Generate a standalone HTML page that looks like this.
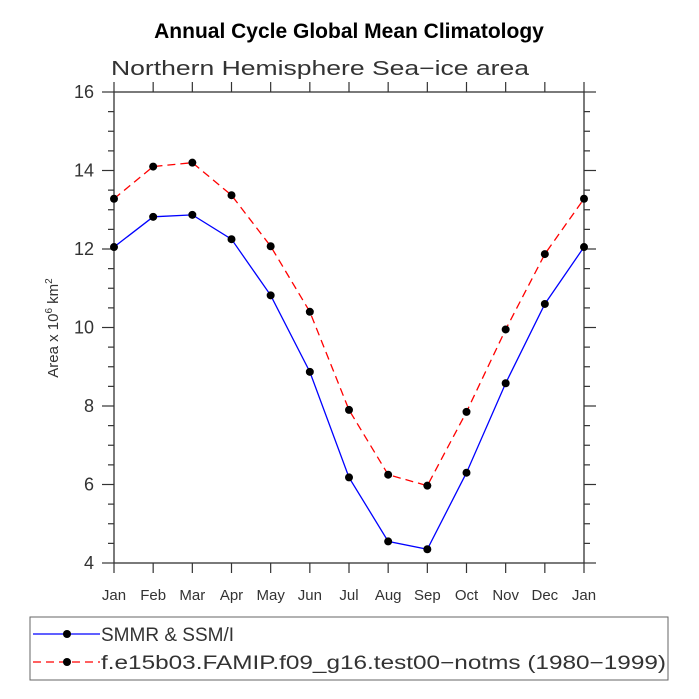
<!DOCTYPE html>
<html><head><meta charset="utf-8"><style>body{margin:0;background:#fff}svg{display:block}text{font-family:"Liberation Sans",sans-serif}</style></head>
<body>
<svg id="c" width="699" height="699" xmlns="http://www.w3.org/2000/svg">
<text x="349" y="38" text-anchor="middle" font-size="21" font-weight="bold">Annual Cycle Global Mean Climatology</text>
<text x="111" y="75" font-size="20" fill="#333" textLength="418" lengthAdjust="spacingAndGlyphs">Northern Hemisphere Sea−ice area</text>
<text transform="translate(58,328) rotate(-90)" text-anchor="middle" font-size="15" fill="#333">Area x 10<tspan dy="-6" font-size="10">6</tspan><tspan dy="6"> km</tspan><tspan dy="-6" font-size="10">2</tspan></text>
<g id="axes"></g><g id="series"></g>
<rect x="30" y="617" width="638" height="63" fill="none" stroke="#666" stroke-width="1"/>
<g><line x1="33" y1="634" x2="100" y2="634" stroke="#00f" stroke-width="1.3"/><circle cx="67" cy="634" r="4" fill="#000"/><text x="101" y="641" font-size="19" fill="#333">SMMR &amp; SSM/I</text></g>
<g><line x1="33" y1="662" x2="100" y2="662" stroke="#f00" stroke-width="1.3" stroke-dasharray="8,5"/><circle cx="67" cy="662" r="4" fill="#000"/><text x="101" y="669" font-size="19" fill="#333" textLength="565" lengthAdjust="spacingAndGlyphs">f.e15b03.FAMIP.f09_g16.test00−notms (1980−1999)</text></g>
</svg>
<script>
const months=["Jan","Feb","Mar","Apr","May","Jun","Jul","Aug","Sep","Oct","Nov","Dec","Jan"];
const obs=[12.05,12.82,12.87,12.25,10.82,8.87,6.18,4.55,4.35,6.3,8.58,10.6,12.05];
const model=[13.28,14.1,14.2,13.37,12.07,10.4,7.9,6.25,5.97,7.85,9.95,11.87,13.28];
const yTicks=[4,6,8,10,12,14,16];
const NS="http://www.w3.org/2000/svg";
const L=114,R=584,T=92,B=563,ymin=4,ymax=16;
const X=i=>L+(R-L)*i/(months.length-1);
const Y=v=>B-(B-T)*(v-ymin)/(ymax-ymin);
function mk(t,a,p){const e=document.createElementNS(NS,t);for(const k in a)e.setAttribute(k,a[k]);p.appendChild(e);return e;}
const ax=document.getElementById('axes'),se=document.getElementById('series');
const fr=mk('rect',{x:L,y:T,width:R-L,height:B-T,fill:'none',stroke:'#333','stroke-width':1.3},ax);


for(let v=ymin;v<=ymax+1e-9;v+=0.5){const maj=Math.abs(v-Math.round(v/2)*2)<1e-9;const len=maj?12:6;
mk('line',{x1:L-len,x2:L,y1:Y(v),y2:Y(v),stroke:'#333','stroke-width':1.2},ax);
mk('line',{x1:R,x2:R+len,y1:Y(v),y2:Y(v),stroke:'#333','stroke-width':1.2},ax);}
yTicks.forEach(v=>{const t=mk('text',{x:L-20,y:Y(v)+6,'text-anchor':'end','font-size':18,fill:'#333'},ax);t.textContent=v;

});
months.forEach((m,i)=>{mk('line',{x1:X(i),x2:X(i),y1:B,y2:B+10,stroke:'#333','stroke-width':1.2},ax);
mk('line',{x1:X(i),x2:X(i),y1:T-10,y2:T,stroke:'#333','stroke-width':1.2},ax);
const t=mk('text',{x:X(i),y:B+37,'text-anchor':'middle','font-size':15,fill:'#333'},ax);t.textContent=m;

});
function draw(d,col,dash,name){const g=mk('g',{},se);


mk('polyline',{points:d.map((v,i)=>X(i)+','+Y(v)).join(' '),fill:'none',stroke:col,'stroke-width':1.3,'stroke-dasharray':dash},g);
d.forEach((v,i)=>mk('circle',{cx:X(i),cy:Y(v),r:4,fill:'#000'},g));}
draw(obs,'#00f','none','series-obs');
draw(model,'#f00','8,5','series-model');
</script>
</body></html>
